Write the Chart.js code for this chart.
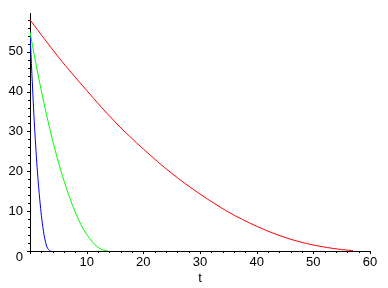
<!DOCTYPE html>
<html>
  <head>
    <script src="https://cdn.jsdelivr.net/npm/chart.js@4.4.1/dist/chart.umd.min.js"></script>
    <style>
      body { margin: 0; background: #fff; }
    </style>
  </head>

  <body>
    <div style="width: 388px; height: 288px">
      <canvas id="canvas"></canvas>
    </div>
    <script>
      // values
      const redT = [0, 5, 10, 15, 20, 25, 30, 35, 40, 45, 50, 55, 57];
      const redV = [58, 48.7, 40.3, 32.4, 25.6, 19.5, 14.3, 9.8, 6.2, 3.4, 1.5, 0.35, 0.1];

      const greenT = [0, 1, 2, 3, 4, 5, 6, 7, 8, 9, 10, 11, 12, 13, 13.8];
      const greenV = [55, 47.3, 40.2, 33.7, 27.7, 22.4, 17.6, 13.4, 9.7, 6.6, 4.2, 2.3, 0.9, 0.2, 0];

      const blueT = [0, 0.25, 0.5, 0.75, 1, 1.25, 1.5, 1.75, 2, 2.25, 2.5, 2.75, 3, 3.25, 3.5, 3.65];
      const blueV = [55, 47, 39.5, 32.5, 26.5, 21, 16.5, 12.5, 9, 6.2, 3.9, 2.2, 1.0, 0.4, 0.1, 0];

      const xTicks = [0, 10, 20, 30, 40, 50, 60];
      const yTicks = [0, 10, 20, 30, 40, 50];
      const minorStep = 2;

      const pts = (ts, vs) => ts.map((t, i) => ({ x: t, y: vs[i] }));

      // small tick marks along both axes, major every 10, minor every 2
      const tickMarks = {
        id: 'tickMarks',
        afterDraw(chart) {
          const { ctx, scales: { x, y } } = chart;
          ctx.save();
          ctx.strokeStyle = '#000';
          ctx.lineWidth = 1;
          ctx.beginPath();
          for (let i = 0; i * minorStep <= x.max; i++) {
            const v = i * minorStep;
            const px = Math.round(x.getPixelForValue(v)) + 0.5;
            const len = v % 10 === 0 ? 3 : 2;
            ctx.moveTo(px, y.bottom);
            ctx.lineTo(px, y.bottom + len);
          }
          for (let i = 0; i * minorStep <= y.max; i++) {
            const v = i * minorStep;
            const py = Math.round(y.getPixelForValue(v)) + 0.5;
            const len = v % 10 === 0 ? 3 : 2;
            ctx.moveTo(x.left, py);
            ctx.lineTo(x.left - len, py);
          }
          ctx.stroke();
          ctx.restore();
        },
      };

      const font = { family: 'Liberation Sans', size: 13, lineHeight: 1 };

      const line = (data, color) => ({
        data: data,
        showLine: true,
        borderColor: color,
        backgroundColor: color,
        borderWidth: 1,
        pointRadius: 0,
        cubicInterpolationMode: 'monotone',
        fill: false,
      });

      new Chart(document.getElementById('canvas').getContext('2d'), {
        type: 'scatter',
        data: {
          datasets: [
            line(pts(redT, redV), '#ff0000'),
            line(pts(greenT, greenV), '#00ff00'),
            line(pts(blueT, blueV), '#0000ff'),
          ],
        },
        options: {
          responsive: true,
          maintainAspectRatio: false,
          animation: false,
          layout: { padding: { top: 3, right: 18, left: 0, bottom: 0 } },
          plugins: {
            legend: { display: false },
            tooltip: { enabled: false },
          },
          scales: {
            x: {
              type: 'linear',
              min: 0,
              max: 60,
              afterFit: (s) => { s.height = 37; },
              afterBuildTicks: (s) => { s.ticks = xTicks.map((v) => ({ value: v })); },
              grid: { display: false, drawTicks: false },
              border: { display: true, color: '#000', width: 1 },
              ticks: {
                color: '#000',
                font: font,
                padding: 5,
                maxRotation: 0,
                callback: (v) => (v === 0 ? '' : String(v)),
              },
              title: {
                display: true,
                text: 't',
                color: '#000',
                font: font,
                padding: { top: 0, bottom: 3 },
              },
            },
            y: {
              type: 'linear',
              min: 0,
              max: 59.6,
              afterFit: (s) => { s.width = 30; },
              afterBuildTicks: (s) => { s.ticks = yTicks.map((v) => ({ value: v })); },
              grid: { display: false, drawTicks: false },
              border: { display: true, color: '#000', width: 1 },
              ticks: {
                color: '#000',
                font: font,
                padding: 7,
                callback: (v) => (v === 0 ? ['', '0'] : String(v)),
              },
            },
          },
        },
        plugins: [tickMarks],
      });
    </script>
  </body>
</html>
